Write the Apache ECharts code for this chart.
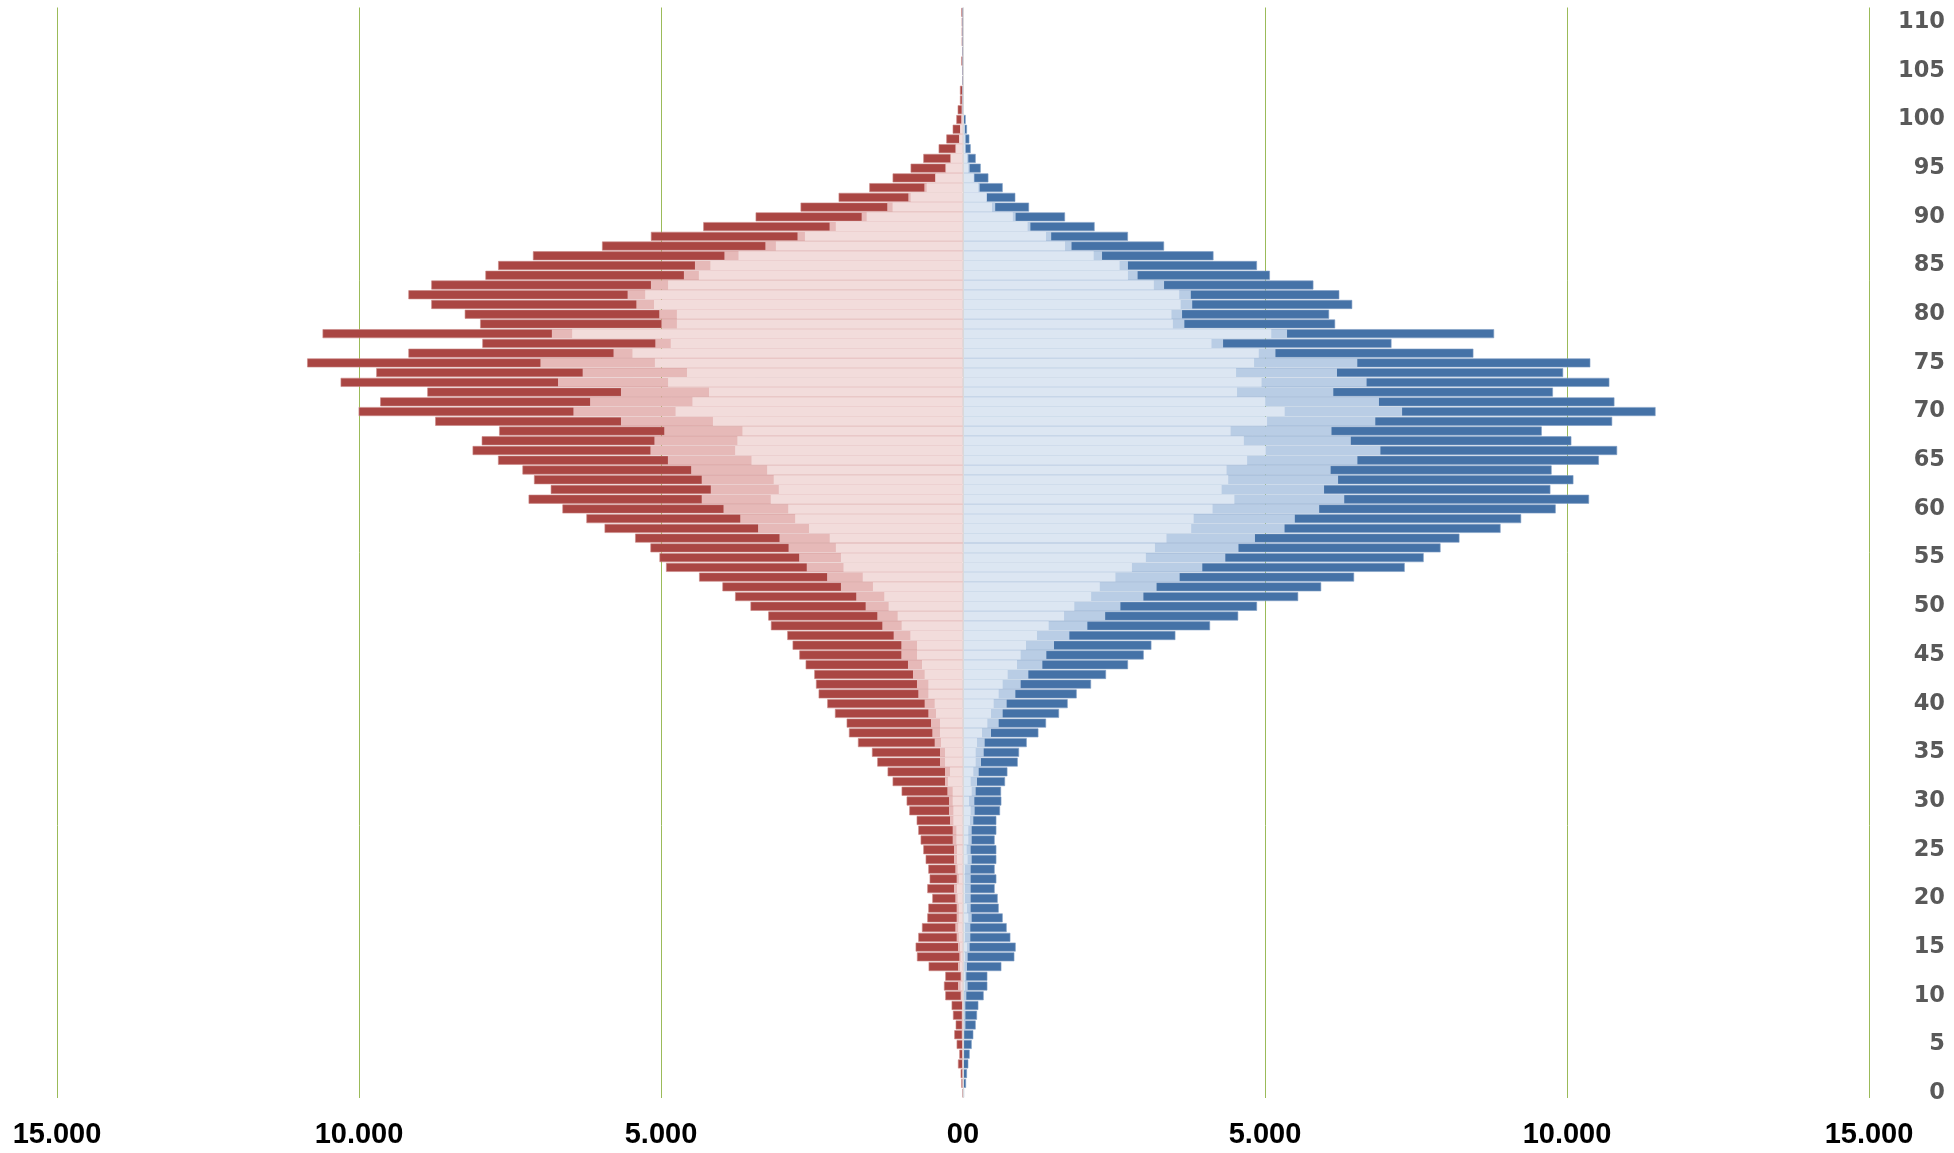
<!DOCTYPE html>
<html>
<head>
<meta charset="utf-8">
<script src="https://cdn.jsdelivr.net/npm/echarts@6/dist/echarts.min.js"></script>
<style>
html,body{margin:0;padding:0;background:#fff;}
#chart{width:1954px;height:1153px;}
</style>
</head>
<body>
<div id="chart"></div>
<script>
// Ages 0..111 (index = age)
const ages = Array.from({length:112}, (_, i) => String(i));

// Right side (blue): outer edge of each nested layer
const rightLight = [2,5,5,5,5,5,8,8,10,10, 15,33,33,22,33,66,33,33,88,66, 33,33,33,33,77,61,88,88,116,127, 100,144,127,171,210,210,232,315,403,464, 508,591,657,740,894,955,1043,1225,1419,1673, 1843,2122,2265,2524,2797,3028,3178,3369,3778,3819, 4132,4493,4282,4391,4364,4704,5011,4650,4431,5034, 5326,5004,4537,4943,4521,4819,4897,4114,5104,3475, 3452,3604,3580,3160,2731,2593,2164,1689,1374,1070, 825,480,386,254,177,88,66,35,30,20, 10,3,2,1,0,0,0,0,0,0, 0,0];
const rightMid = [4,10,15,15,18,18,20,40,40,39, 55,77,55,66,77,110,121,121,144,127, 127,127,127,127,144,127,144,144,171,193, 188,210,232,260,298,343,359,464,591,657, 723,867,955,1082,1314,1380,1507,1761,2059,2354, 2606,2987,3205,3587,3962,4343,4561,4834,5324,5494, 5897,6312,5978,6210,6087,6530,6911,6421,6101,6826, 7270,6887,6131,6682,6192,6528,5173,4306,5365,3665, 3627,3795,3772,3329,2891,2731,2302,1797,1460,1116, 871,533,397,276,188,110,88,44,44,33, 17,3,2,1,0,0,0,0,0,0, 0,0];
const rightTotal = [17,50,66,88,110,144,171,210,232,254, 342,403,403,635,850,872,784,723,657,591, 574,524,552,524,552,552,524,552,552,613, 635,630,696,735,906,928,1055,1248,1375,1590, 1733,1882,2120,2368,2732,2992,3119,3516,4090,4556, 4868,5549,5930,6475,7313,7627,7906,8219,8900,9241, 9813,10365,9725,10106,9745,10528,10830,10072,9582,10748, 11466,10785,9767,10701,9936,10386,8450,7094,8793,6161, 6061,6444,6230,5801,5081,4867,4147,3329,2731,2179, 1689,1093,866,657,420,293,210,127,105,66, 44,5,3,2,1,0,0,0,0,0, 0,0];

// Left side (red): outer edge of each nested layer (drawn to the left)
const leftLight = [3,5,5,8,8,8,10,10,10,10, 25,40,25,50,40,50,70,80,70,70, 90,100,70,90,100,100,110,110,160,160, 171,171,250,215,298,298,364,381,381,447, 469,574,574,635,679,762,762,872,1016,1082, 1231,1304,1491,1660,1979,2021,2105,2207,2550,2779, 2894,3183,3050,3134,3243,3502,3773,3736,3652,4140, 4759,4480,4205,4883,4570,5101,5473,4839,6471,4737, 4737,5116,5262,4883,4373,4183,3717,3098,2617,2106, 1595,1166,867,602,450,280,200,115,60,45, 22,18,15,10,5,5,5,5,5,5, 5,5];
const leftMid = [5,8,10,15,15,15,20,20,20,17, 39,83,39,83,61,83,105,127,105,105, 127,149,105,127,149,149,171,171,215,232, 232,259,298,298,381,381,469,508,530,574, 635,740,762,828,911,1021,1021,1148,1336,1419, 1612,1768,2021,2250,2587,2713,2888,3038,3393,3688, 3965,4326,4176,4326,4501,4886,5175,5109,4946,5663, 6450,6174,5663,6705,6297,6996,5786,5094,6807,4992, 5029,5408,5553,5167,4621,4438,3950,3272,2740,2209, 1678,1254,905,640,464,293,210,127,66,50, 28,22,20,15,8,8,8,8,8,8, 8,8];
const leftTotal = [10,28,39,83,61,105,144,121,166,188, 293,315,293,569,762,784,740,679,591,574, 508,591,552,574,618,657,701,740,767,889, 933,1016,1165,1248,1419,1507,1739,1888,1926,2120, 2247,2390,2434,2462,2605,2710,2821,2909,3180,3224, 3518,3773,3983,4369,4916,5025,5175,5428,5934,6235, 6632,7192,6825,7102,7294,7698,8119,7968,7680,8738, 10006,9649,8869,10304,9714,10858,9182,7958,10603,7994, 8249,8803,9182,8803,7907,7696,7120,5976,5167,4300, 3433,2689,2059,1551,1165,867,657,403,276,171, 110,88,50,50,10,10,28,10,22,22, 22,28];

const xTicks = {min: -15000, max: 15000, step: 5000};

const neg = a => a.map(v => -v);
const gridGreen = '#9BBB59';

const chart = echarts.init(document.getElementById('chart'), null, {renderer: 'canvas'});

function barSeries(name, data, color, border) {
  return {
    name: name, type: 'bar', data: data,
    barGap: '-100%', barCategoryGap: '8%',
    itemStyle: {color: color, borderColor: border || color, borderWidth: border ? 0.6 : 0},
    silent: true
  };
}

const series = [
  barSeries('leftTotal', neg(leftTotal), '#AA4643', '#C98684'),
  barSeries('leftMid', neg(leftMid), '#E6B9B8'),
  barSeries('leftLight', neg(leftLight), '#F2DCDB'),
  barSeries('rightTotal', rightTotal, '#4572A7', '#7F9DC4'),
  barSeries('rightMid', rightMid, '#B9CDE5'),
  barSeries('rightLight', rightLight, '#DCE6F2')
];
series[5].markLine = {
  silent: true, symbol: 'none', animation: false,
  label: {show: false},
  lineStyle: {color: '#D9D9D9', width: 1, type: 'solid'},
  data: [{xAxis: 0}]
};

chart.setOption({
  animation: false,
  backgroundColor: '#ffffff',
  grid: {left: 57, right: 85, top: 7.5, bottom: 55, containLabel: false},
  xAxis: {
    type: 'value', min: xTicks.min, max: xTicks.max, interval: xTicks.step,
    axisLine: {show: false}, axisTick: {show: false},
    splitLine: {show: true, lineStyle: {color: [gridGreen, gridGreen, gridGreen, 'rgba(0,0,0,0)', gridGreen, gridGreen, gridGreen], width: 1}},
    axisLabel: {
      margin: 22, color: '#000000', fontWeight: 'bold', fontSize: 29,
      fontFamily: '"Liberation Sans", Arial, sans-serif',
      formatter: function (v) { return v === 0 ? '00' : (Math.abs(v) / 1000).toFixed(0) + '.000'; }
    }
  },
  yAxis: {
    type: 'category', data: ages, position: 'right',
    axisLine: {show: false}, axisTick: {show: false}, splitLine: {show: false},
    axisLabel: {
      interval: function (i) { return i % 5 === 0 && i <= 110; },
      margin: 76, align: 'right', color: '#595959', fontWeight: 'bold', fontSize: 22.5,
      padding: [5, 0, 0, 0],
      fontFamily: '"DejaVu Sans", sans-serif'
    }
  },
  series: series
});
</script>
</body>
</html>
